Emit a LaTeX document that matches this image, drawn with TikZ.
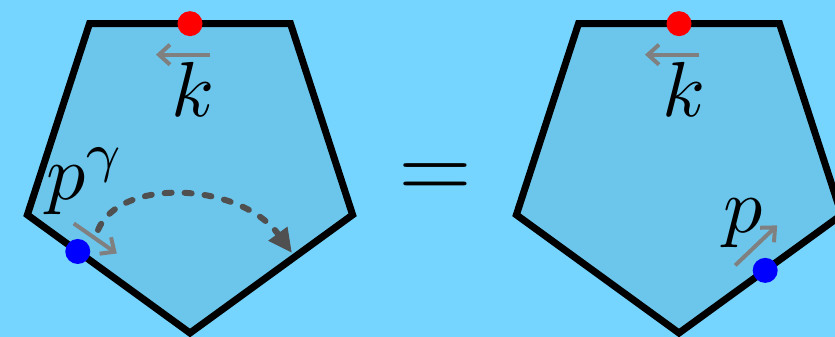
\documentclass[tikz,border=0pt]{standalone}
\usetikzlibrary{arrows.meta, calc}

\definecolor{bgblue}{RGB}{117,213,255}
\definecolor{pentblue}{RGB}{108,198,235}
\definecolor{hopgray}{RGB}{80,80,80}

\begin{document}
\begin{tikzpicture}[
    x=1pt, y=1pt,
    pent/.style={draw, line width=7pt, fill=pentblue},
    reddot/.style={circle, fill=red, inner sep=0pt, minimum size=25pt},
    bluedot/.style={circle, fill=blue, inner sep=0pt, minimum size=25pt},
    mom/.style={-{Straight Barb[length=11pt, width=20pt]}, line width=4pt, gray},
    hop/.style={-{Triangle[length=24pt, width=22pt]}, line width=6pt, hopgray, dash pattern=on 7pt off 13pt, line cap=round},
    lbl/.style={scale=7.8, inner sep=0pt}
]

% Fondo
\path[use as bounding box, fill=bgblue] (0,0) rectangle (835,337);
\clip (0,0) rectangle (835,337);

% Pentagonos
\foreach \side/\cx in {L/190, R/679} {
  \foreach \a [count=\i] in {-90,-18,54,126,198}
    \coordinate (\side\i) at ([shift={(\cx,175)}]\a:171);
}
\draw[pent] (L1) -- (L2) -- (L3) -- (L4) -- (L5) -- cycle;
\draw[pent] (R1) -- (R2) -- (R3) -- (R4) -- (R5) -- cycle;

% Puntos
\node (kL) [reddot] at ($(L3)!0.5!(L4)$) {};
\node (kR) [reddot] at ($(R3)!0.5!(R4)$) {};
\node (pL) [bluedot] at ($(L5)!0.31!(L1)$) {};
\node (pR) [bluedot] at ($(R1)!0.53!(R2)$) {};

% Momentos
\coordinate (kLa) at ([shift={(20,-31)}]kL.center);
\coordinate (kLb) at ([shift={(-34,-31)}]kL.center);
\coordinate (kRa) at ([shift={(20,-31)}]kR.center);
\coordinate (kRb) at ([shift={(-34,-31)}]kR.center);
\coordinate (pLa) at ([shift={(-4,28)}]pL.center);
\coordinate (pLb) at ([shift={(39,-2)}]pL.center);
\coordinate (pRa) at ([shift={(-30,5)}]pR.center);
\coordinate (pRb) at ([shift={(12,45)}]pR.center);
\draw[mom] (kLa) -- (kLb);
\draw[mom] (kRa) -- (kRb);
\draw[mom] (pLa) -- (pLb);
\draw[mom] (pRa) -- (pRb);

% Etiquetas
\node (kLtxt) [lbl] at ([shift={(3,-66)}]kL.center) {$k$};
\node (kRtxt) [lbl] at ([shift={(5,-66)}]kR.center) {$k$};
\node (pLtxt) [lbl, anchor=base west] at (45,137) {$p^\gamma$};
\node (pRtxt) [lbl, anchor=base west] at (722,104) {$p$};
\node (eq) [scale=9.5, inner sep=0pt] at (435,156) {$=$};

% Salto
\coordinate (hopstart) at (98,107);
\coordinate (hopend) at (292,84);
\draw[hop] (hopstart) .. controls (120,160) and (240,155) .. (hopend);

\end{tikzpicture}
\end{document}
